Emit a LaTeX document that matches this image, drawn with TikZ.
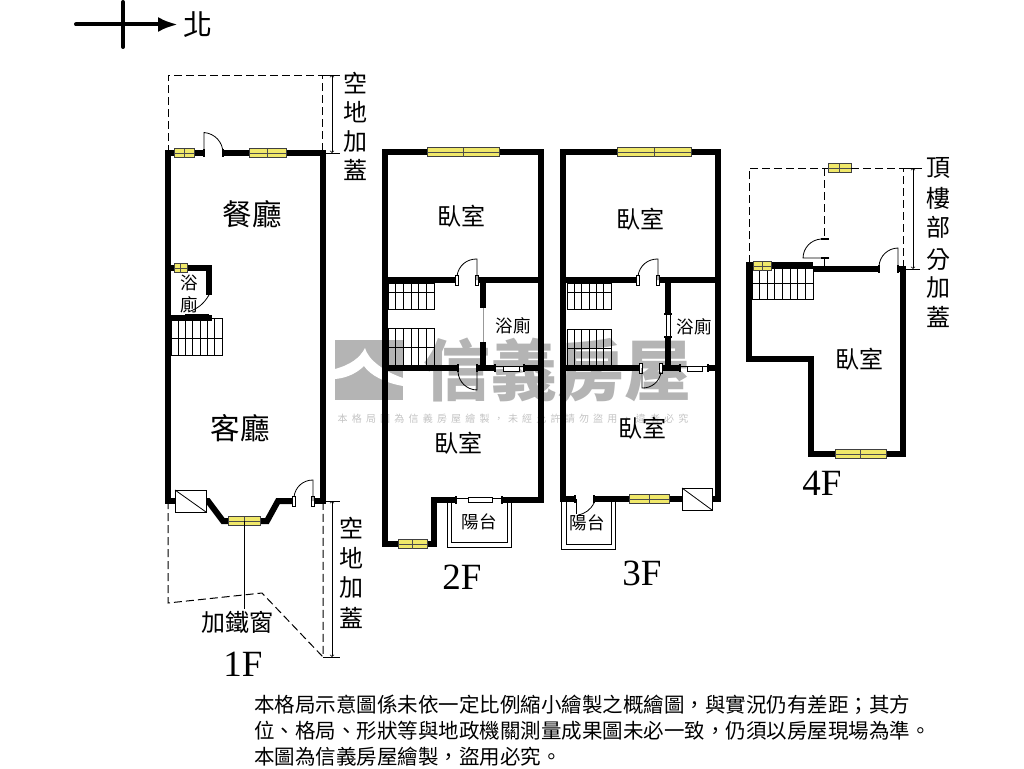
\documentclass[tikz,border=0pt]{standalone}
\usepackage{fontspec}
\usepackage{xcolor}
\usetikzlibrary{arrows.meta}
\setmainfont{Noto Sans CJK TC}
\newfontfamily\latinfont{Liberation Serif}
\newfontfamily\markfont[LetterSpace=42]{Noto Sans CJK TC}
\definecolor{wingold}{HTML}{F0E86A}
\definecolor{markgray}{HTML}{B4B4B4}
\begin{document}
\begin{tikzpicture}[x=1pt,y=-1pt]
\useasboundingbox (0,0) rectangle (1024,768);
\tikzstyle{wall}=[line width=6pt,line join=miter]
\tikzstyle{thinline}=[line width=0.8pt]
\tikzstyle{dashline}=[line width=1pt,dash pattern=on 8pt off 4pt]
\tikzstyle{dimline}=[line width=0.7pt,<->,>=to]
\tikzstyle{winbox}=[line width=1pt,draw=black!75,fill=wingold]
\tikzstyle{room}=[inner sep=0pt,font=\fontsize{24}{24}\selectfont]
\tikzstyle{bigroom}=[inner sep=0pt,font=\fontsize{29.5}{30}\selectfont]
\tikzstyle{smallroom}=[inner sep=0pt,font=\fontsize{17.5}{18}\selectfont]
\tikzstyle{floorname}=[inner sep=0pt,font=\latinfont\fontsize{37}{37}\selectfont]
\tikzstyle{note}=[inner sep=0pt,anchor=west,font=\fontsize{20.5}{21}\selectfont]
% watermark
\fill[markgray] (335,340) rectangle (403,400);
\fill[white] (335,369) .. controls (350,365) and (360,358) .. (365,348) .. controls (368,360) and (385,372) .. (403,378) -- (403,386) .. controls (385,383) and (370,375) .. (364,366) .. controls (358,372) and (348,378) .. (335,379) -- cycle;
\node[inner sep=0pt,text=markgray,font=\bfseries\fontsize{67}{67}\selectfont] (brand) at (557,370) {信義房屋};
\node[inner sep=0pt,text=markgray!80,font=\markfont\fontsize{10}{10}\selectfont] (warn) at (513,419) {本格局圖為信義房屋繪製，未經允許請勿盜用，違者必究};
% north arrow
\coordinate (ntail) at (76,24.5);
\coordinate (ntip) at (178,24.5);
\coordinate (ncrossa) at (123,2);
\coordinate (ncrossb) at (123,47);
\draw[line width=4pt,line cap=round,-{Latex[length=20pt,width=15pt]}] (ntail) -- (ntip);
\draw[line width=4pt,line cap=round] (ncrossa) -- (ncrossb);
\node[inner sep=0pt,font=\fontsize{29}{29}\selectfont] (north) at (198,25) {北};
% stairs
\foreach \xa/\ya/\xb/\yb/\ym/\n in {171/318/222/355/338/7,388/283/434/309/292/6,388/328/434/366/347/6,567/283/611/309/292/6,567/329/611/366/348/6,752/268/813/299/283/8}{
	\draw[thinline] (\xa,\ya) rectangle (\xb,\yb);
	\draw[thinline] (\xa,\ym) -- (\xb,\ym);
	\foreach \i in {1,...,\n}
		\draw[thinline] ({\xa+\i*(\xb-\xa)/\n},\ya) -- ({\xa+\i*(\xb-\xa)/\n},\yb);
}
% 1F walls
\draw[wall] (204,153) -- (168,153) -- (168,501) -- (175,501);
\draw[wall] (223,153) -- (322.5,153) -- (322.5,501) -- (313,501);
\draw[wall] (168,268) -- (209,268) -- (209,295);
\draw[wall] (168,318) -- (212,318);
\draw[wall] (206,501) -- (208,501) -- (223,521) -- (267,521) -- (278,501) -- (294,501);
% 2F walls
\draw[wall] (457,280) -- (385,280);
\draw[wall] (457,152) -- (385,152) -- (385,544) -- (434,544) -- (434,500) -- (456,500);
\draw[wall] (457,152) -- (541,152) -- (541,500) -- (502,500);
\draw[wall] (477,280) -- (541,280);
\draw[wall] (483,280) -- (483,308);
\draw[wall] (483,342) -- (483,368);
\draw[wall] (385,368) -- (458,368);
\draw[wall] (477,368) -- (495,368);
\draw[wall] (524,368) -- (541,368);
% 3F walls
\draw[wall] (640,152) -- (563,152) -- (563,499) -- (575,499);
\draw[wall] (640,152) -- (718,152) -- (718,499) -- (712,499);
\draw[wall] (563,280) -- (638,280);
\draw[wall] (658,280) -- (718,280);
\draw[wall] (668,280) -- (668,314);
\draw[wall] (668,337) -- (668,368);
\draw[wall] (563,368) -- (641,368);
\draw[wall] (661,368) -- (680,368);
\draw[wall] (708,368) -- (718,368);
\draw[wall] (594,499) -- (682,499);
% 4F walls
\draw[wall] (813,265) -- (749,265) -- (749,359) -- (811,359) -- (811,454) -- (903,454) -- (903,269) -- (898,269);
\draw[wall] (813,269) -- (879,269);
% white and black door posts
\foreach \x/\y in {294/501,313/501,457/280,477/280,638/280,658/280,641/368,661/368}
	\draw[line width=0.8pt,fill=white] ({\x-1.5},{\y-5}) rectangle ({\x+1.5},{\y+5});
\draw[line width=0.8pt,fill=white] (666,314) rectangle (670,337);
\foreach \x/\y in {204/153,223/153,458/368,477/368,495/368,524/368,456/500,502/500,575/499,594/499,680/368,708/368,879/269,898/269}
	\draw[line width=2pt] (\x,{\y-4}) -- (\x,{\y+4});
\draw[line width=2pt] (664,314) -- (672,314);
\draw[line width=2pt] (664,337) -- (672,337);
% doors
\draw[thinline] (204,153) -- (204,132.5) to[bend left=42] (223,153);
\draw[thinline] (209,295) to[bend left=20] (188,312);
\draw[thinline] (185,314) -- (209,314);
\draw[thinline] (313,501) -- (313,480) to[bend right=42] (294,497);
\draw[thinline] (477,280) -- (477,259) to[bend right=42] (457,276);
\draw[thinline] (477,368) -- (477,390) to[bend left=42] (458,372);
\draw[thinline] (658,280) -- (658,259) to[bend right=42] (638,276);
\draw[thinline] (642,368) -- (642,388) to[bend right=42] (661,372);
\draw[thinline] (576,499) -- (576,514);
\draw[thinline] (594,503) to[bend left=25] (578,515);
\draw[thinline] (898,269) -- (898,248) to[bend right=42] (879,266);
\draw[thinline] (829,258) -- (803,258) to[bend left=42] (821,239);
\draw[line width=1.6pt] (821,239) -- (829,239);
\draw[line width=1.6pt] (821,258) -- (829,258);
\draw[thinline] (824,258) -- (824,269);
% sliding panels
\draw[thinline] (495,366) -- (524,366);
\draw[thinline,fill=white] (503,366) rectangle (519,371);
\draw[thinline] (680,366) -- (708,366);
\draw[thinline,fill=white] (687,366) rectangle (702,371);
\draw[thinline] (456,498) -- (502,498);
\draw[thinline,fill=white] (468,497) rectangle (492,502);
\draw[line width=0.5pt,black!40] (483,308) -- (483,342);
% ventilation boxes
\draw[thinline,fill=white] (175,490) rectangle (206,512);
\draw[thinline] (175,490) -- (206,512);
\draw[thinline,fill=white] (682,488) rectangle (712,510);
\draw[thinline] (682,488) -- (712,510);
% balconies
\draw[thinline] (447,503) -- (447,547) -- (511,547) -- (511,503);
\draw[thinline] (451,503) -- (451,542) -- (507,542) -- (507,503);
\draw[thinline] (561,502) -- (561,549) -- (615,549) -- (615,502);
\draw[thinline] (566,502) -- (566,544) -- (611,544) -- (611,502);
% windows
\foreach \xa/\xb/\y in {174/194/153,249/286/153,174/187/268,228/260/521,427/499/152,398/427/544,617/691/152,629/669/499,828/851/168,753/771/266,835/886/454}{
	\draw[winbox] (\xa,{\y-4.5}) rectangle (\xb,{\y+4.5});
	\draw[line width=0.5pt,black!70] (\xa,\y) -- (\xb,\y);
	\draw[line width=0.5pt,black!70] ({(\xa+\xb)/2},{\y-4.5}) -- ({(\xa+\xb)/2},{\y+4.5});
}
% extensions
\draw[dashline] (168,153) -- (168,75) -- (322,75) -- (322,153);
\draw[dashline] (168,501) -- (168,603) -- (262,593) -- (323,657) -- (323,501);
\draw[dashline] (749,263) -- (749,168) -- (828,168);
\draw[dashline] (851,168) -- (903,168) -- (903,269);
\draw[dashline] (824,168) -- (824,238);
% dimensions
\draw[thinline] (322,75) -- (340,75);
\draw[thinline] (322,153) -- (340,153);
\draw[dimline] (332,75) -- (332,153);
\draw[thinline] (323,501) -- (340,501);
\draw[thinline] (323,657) -- (340,657);
\draw[dimline] (332,501) -- (332,657);
\draw[thinline] (903,168) -- (922,168);
\draw[thinline] (903,269) -- (920,269);
\draw[dimline] (913,168) -- (913,269);
% labels
\foreach \ch/\yy in {空/83,地/112,加/142,蓋/170}
	\node[room] (topyard\yy) at (355,\yy) {\ch};
\foreach \ch/\yy in {空/528,地/558,加/588,蓋/618}
	\node[room] (frontyard\yy) at (351,\yy) {\ch};
\foreach \ch/\yy in {頂/168,樓/198,部/227,分/260,加/288,蓋/317}
	\node[room] (roof\yy) at (938,\yy) {\ch};
\node[bigroom] (dining) at (252,214) {餐廳};
\node[bigroom] (living) at (240,428) {客廳};
\node[smallroom] (bathA) at (189,283) {浴};
\node[smallroom] (bathB) at (189,305) {廁};
\node[room,inner sep=2pt] (ironwin) at (237,622) {加鐵窗};
\coordinate (winmid) at (244,521);
\draw[thinline] (winmid) -- (winmid|-ironwin.north);
\node[floorname] (floorA) at (243,664) {1F};
\node[room] (bedB) at (461,216) {臥室};
\node[smallroom] (bathC) at (513,326) {浴廁};
\node[room] (bedC) at (458,443) {臥室};
\node[smallroom] (balconyA) at (479,522) {陽台};
\node[floorname] (floorB) at (462,577) {2F};
\node[room] (bedD) at (640,219) {臥室};
\node[smallroom] (bathD) at (694,327) {浴廁};
\node[room] (bedE) at (642,428) {臥室};
\node[smallroom] (balconyB) at (587,523) {陽台};
\node[floorname] (floorC) at (642,573) {3F};
\node[room] (bedF) at (859,359) {臥室};
\node[floorname] (floorD) at (822,483) {4F};
% note
\node[note] (lineA) at (254,705) {本格局示意圖係未依一定比例縮小繪製之概繪圖，與實況仍有差距；其方};
\node[note] (lineB) at (254,731) {位、格局、形狀等與地政機關測量成果圖未必一致，仍須以房屋現場為準。};
\node[note] (lineC) at (254,757) {本圖為信義房屋繪製，盜用必究。};
\end{tikzpicture}
\end{document}
